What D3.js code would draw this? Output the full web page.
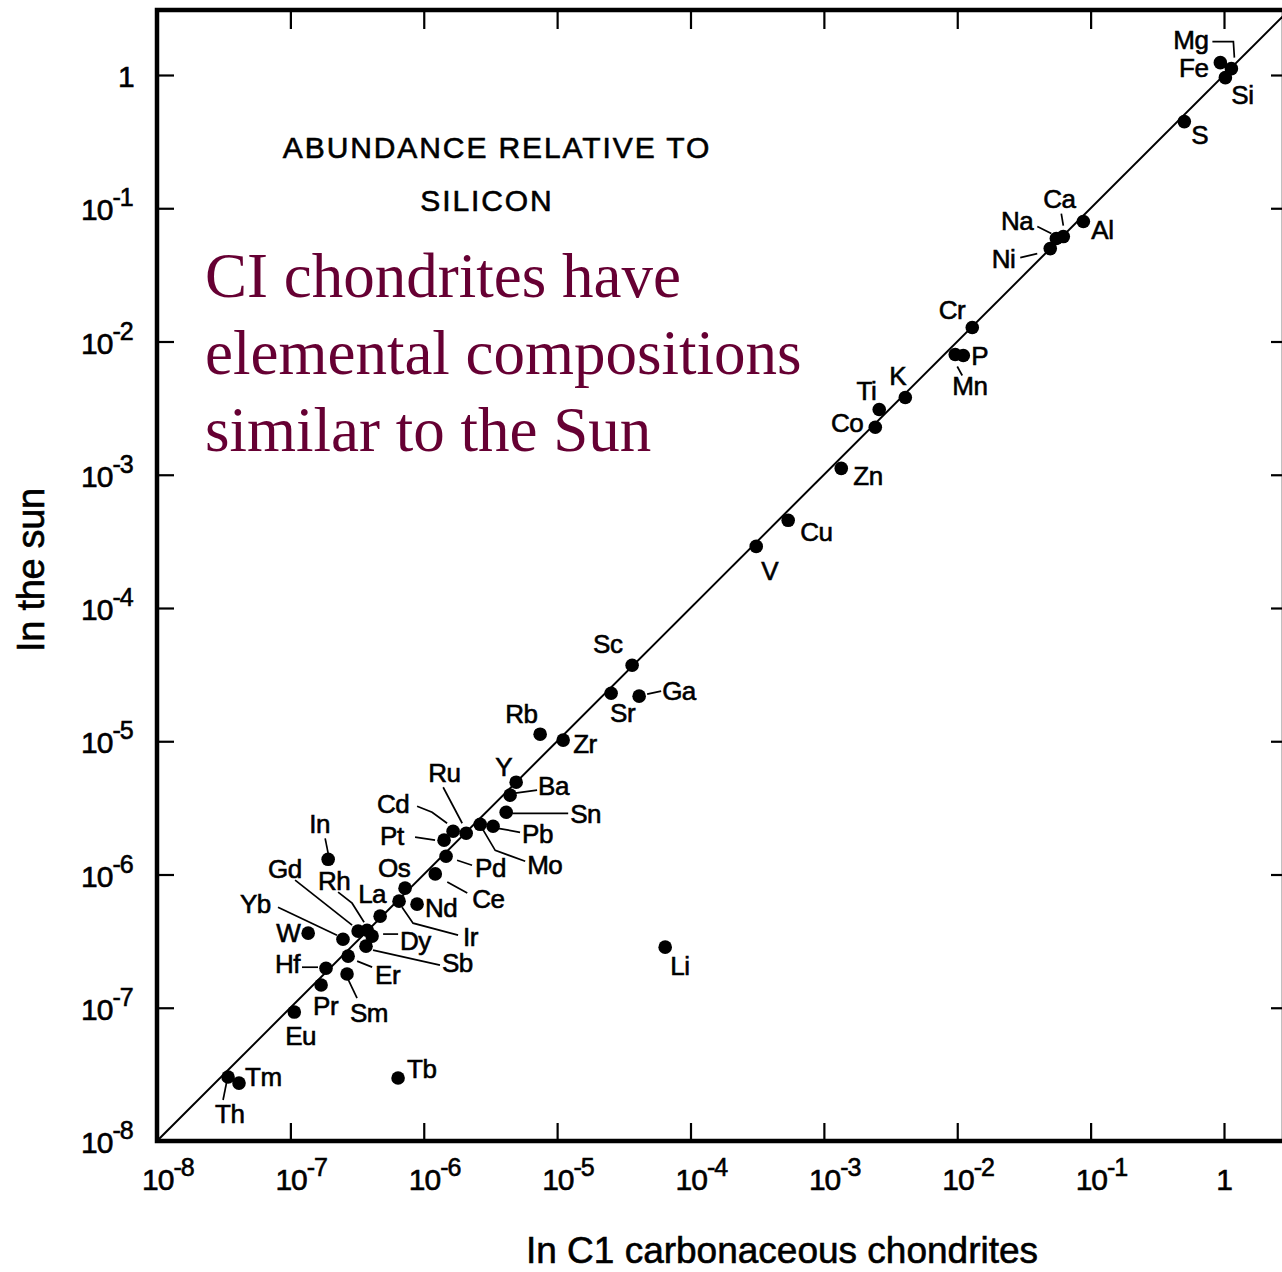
<!DOCTYPE html>
<html>
<head>
<meta charset="utf-8">
<script src="https://cdn.jsdelivr.net/npm/d3@7/dist/d3.min.js"></script>
<style>
  body { margin: 0; background: #fff; }
  svg text { font-family: "Liberation Sans", Arial, Helvetica, sans-serif; fill: #000; }
  .heavy { stroke: #000; stroke-width: 0.6px; }
</style>
</head>
<body>
<svg id="chart" width="1282" height="1272"></svg>
<script>
// ============================================================
// DATA (abundance relative to silicon)
// ============================================================
const elements = ["Mg","Fe","Si","S","Al","Ca","Na","Ni","Cr","Mn","P","K","Ti","Co","Zn","Cu","V",
  "Sc","Sr","Ga","Rb","Zr","Y","Ba","Sn","Pb","Mo","Ru","Cd","Pt","Pd","Ce","Os","Ir","Nd","La",
  "Gd","Rh","Dy","Sb","In","Yb","W","Er","Hf","Sm","Pr","Eu","Th","Tm","Tb","Li"];

// in C1 carbonaceous chondrites (x)
const chondrite = [1.136, 0.939, 1.024, 0.504, 0.0882, 0.0624, 0.0553, 0.0498, 0.01296, 0.00966,
  0.0111, 0.00408, 0.0026, 0.00243, 0.00135, 5.40e-4, 3.11e-4, 3.65e-5, 2.54e-5, 4.12e-5,
  7.46e-6, 1.11e-5, 4.93e-6, 4.44e-6, 4.15e-6, 3.31e-6, 2.65e-6, 2.08e-6, 1.66e-6, 1.42e-6,
  1.47e-6, 1.22e-6, 7.24e-7, 6.53e-7, 8.91e-7, 4.71e-7, 3.22e-7, 3.76e-7, 4.10e-7, 3.69e-7,
  1.92e-7, 2.48e-7, 1.36e-7, 2.71e-7, 1.85e-7, 2.66e-7, 1.70e-7, 1.07e-7, 3.41e-8, 4.12e-8,
  6.42e-7, 6.46e-5];

// in the sun (y)
const sun = [1.116, 1.238, 0.955, 0.447, 0.0795, 0.0613, 0.0593, 0.0498, 0.01274, 0.00799,
  0.00786, 0.0038, 0.00309, 0.00227, 0.001116, 4.55e-4, 2.90e-4, 3.72e-5, 2.29e-5, 2.18e-5,
  1.13e-5, 1.02e-5, 4.93e-6, 3.94e-6, 2.93e-6, 2.30e-6, 2.38e-6, 2.04e-6, 2.11e-6, 1.81e-6,
  1.37e-6, 1.01e-6, 7.90e-7, 6.31e-7, 5.99e-7, 4.87e-7, 3.76e-7, 3.82e-7, 3.45e-7, 2.90e-7,
  1.30e-6, 3.27e-7, 3.63e-7, 2.44e-7, 1.98e-7, 1.79e-7, 1.48e-7, 9.28e-8, 3.02e-8, 2.72e-8,
  2.97e-8, 2.85e-7];

const tickExponents = [-8, -7, -6, -5, -4, -3, -2, -1, 0];
const xTitle = "In C1 carbonaceous chondrites";
const yTitle = "In the sun";
const boxTitle = ["ABUNDANCE RELATIVE TO", "SILICON"];
const message = ["CI chondrites have", "elemental compositions", "similar to the Sun"];

// ============================================================
// LABEL LAYOUT (pixel offsets from each dot, leader polylines)
// ============================================================
const labelLayout = {
  Mg: { anchor: "end", dx: -23, dy: -20, leader: [[-19,-27],[2,-27],[3,-11]] },
  Fe: { anchor: "end", dx: -12, dy: 14 },
  Si: { dx: 6, dy: 26 },
  S:  { dx: 7, dy: 22 },
  Al: { dx: 8, dy: 17 },
  Ca: { dx: -20, dy: -29, leader: [[-2,-23],[0,-11]] },
  Na: { anchor: "end", dx: -23, dy: -8, leader: [[-19,-12],[-5,-5]] },
  Ni: { anchor: "end", dx: -35, dy: 19, leader: [[-30,9],[-13,5]] },
  Cr: { anchor: "end", dx: -7, dy: -8 },
  P:  { dx: 8, dy: 10 },
  Mn: { dx: -3, dy: 41, leader: [[2,12],[7,21]] },
  K:  { dx: -16, dy: -12 },
  Ti: { anchor: "end", dx: -3, dy: -9 },
  Co: { anchor: "end", dx: -12, dy: 5 },
  Zn: { dx: 12, dy: 17 },
  Cu: { dx: 12, dy: 21 },
  V:  { dx: 5, dy: 34 },
  Sc: { dx: -39, dy: -12 },
  Ga: { dx: 23, dy: 4, leader: [[8,-2],[22,-5]] },
  Sr: { dx: -1, dy: 29 },
  Rb: { dx: -35, dy: -11 },
  Zr: { dx: 10, dy: 13 },
  Y:  { dx: -21, dy: -6 },
  Ba: { dx: 28, dy: 0, leader: [[5,-2],[27,-5]] },
  Sn: { dx: 64, dy: 11, leader: [[6,1],[62,1]] },
  Pb: { dx: 29, dy: 17, leader: [[5,2],[27,6]] },
  Mo: { dx: 47, dy: 50, leader: [[2,4],[15,26],[45,37]] },
  Ru: { dx: -38, dy: -51, leader: [[-23,-46],[-4,-10]] },
  Cd: { dx: -76, dy: -18, leader: [[-36,-25],[-21,-19],[-6,-8]] },
  Pt: { dx: -64, dy: 5, leader: [[-29,-3],[-9,0]] },
  Pd: { dx: 29, dy: 21, leader: [[11,4],[26,9]] },
  Os: { dx: -27, dy: -11 },
  Ce: { dx: 37, dy: 34, leader: [[12,8],[32,19]] },
  Nd: { dx: 8, dy: 13 },
  Ir: { dx: 64, dy: 45, leader: [[3,6],[14,22],[59,34]] },
  La: { dx: -22, dy: -13 },
  Dy: { dx: 28, dy: 14, leader: [[11,-2],[26,-2]] },
  Sb: { dx: 76, dy: 26, leader: [[7,4],[74,19]] },
  Er: { dx: 27, dy: 28, leader: [[9,5],[24,11]] },
  Sm: { dx: 3, dy: 48, leader: [[0,3],[10,24]] },
  Pr: { dx: -8, dy: 30 },
  Eu: { dx: -9, dy: 33 },
  Hf: { anchor: "end", dx: -26, dy: 5, leader: [[-24,-1],[-8,-1]] },
  W:  { anchor: "end", dx: -8, dy: 9 },
  Yb: { dx: -103, dy: -26, leader: [[-65,-32],[-6,-4]] },
  Gd: { dx: -90, dy: -53, leader: [[-63,-51],[-6,-6]] },
  Rh: { dx: -49, dy: -40, leader: [[-29,-38],[-15,-27],[-3,-8]] },
  In: { dx: -19, dy: -26, leader: [[-3,-21],[0,-6]] },
  Th: { dx: -13, dy: 46, leader: [[-1,3],[-5,23]] },
  Tm: { dx: 6, dy: 3 },
  Tb: { dx: 9, dy: 0 },
  Li: { dx: 5, dy: 28 }
};

// ============================================================
// SCALES + FRAME
// ============================================================
const svg = d3.select('#chart');
const frame = { left: 157, top: 10, right: 1284, bottom: 1141 };

const x = d3.scaleLog().domain([1e-8, 1]).range([157, 1224]);
const y = d3.scaleLog().domain([1e-8, 1]).range([1141, 75]);
const tickVals = tickExponents.map(e => Math.pow(10, e));

svg.append('defs').append('clipPath').attr('id', 'plotClip')
  .append('rect')
  .attr('x', frame.left).attr('y', frame.top)
  .attr('width', frame.right - frame.left).attr('height', frame.bottom - frame.top);

function tickAxis(axis, tx, ty) {
  const g = svg.append('g')
    .attr('transform', `translate(${tx},${ty})`)
    .call(axis.tickValues(tickVals).tickSizeOuter(0).tickFormat(() => ''));
  g.select('.domain').remove();
  g.selectAll('.tick line').attr('stroke', '#000').attr('stroke-width', 2.2);
  return g;
}
tickAxis(d3.axisBottom(x).tickSize(-18), 0, frame.bottom);
tickAxis(d3.axisTop(x).tickSize(-19), 0, frame.top);
tickAxis(d3.axisLeft(y).tickSize(-17), frame.left, 0);
tickAxis(d3.axisRight(y).tickSize(-13), frame.right, 0);

svg.append('rect')
  .attr('x', frame.left).attr('y', frame.top)
  .attr('width', frame.right - frame.left).attr('height', frame.bottom - frame.top)
  .attr('fill', 'none').attr('stroke', '#000').attr('stroke-width', 4.5);

// ============================================================
// TICK LABELS (10 with superscript exponent)
// ============================================================
function powerLabel(sel, e) {
  if (e === 0) { sel.text('1'); return; }
  sel.append('tspan').text('10');
  sel.append('tspan').attr('font-size', 25).attr('dy', -14).text('-' + Math.abs(e));
}

svg.append('g').selectAll('text').data(tickExponents).join('text')
  .attr('class', 'heavy')
  .attr('x', e => e === 0 ? x(1) : x(Math.pow(10, e)) - 15)
  .attr('y', 1190)
  .attr('text-anchor', e => e === 0 ? 'middle' : 'start')
  .attr('font-size', 30)
  .attr('letter-spacing', -1)
  .each(function(e) { powerLabel(d3.select(this), e); });

svg.append('g').selectAll('text').data(tickExponents).join('text')
  .attr('class', 'heavy')
  .attr('x', e => e === 0 ? 118 : 81)
  .attr('y', e => y(Math.pow(10, e)) + 12)
  .attr('font-size', 30)
  .attr('letter-spacing', -1)
  .each(function(e) { powerLabel(d3.select(this), e); });

// axis titles
svg.append('text')
  .attr('class', 'heavy')
  .attr('x', 782).attr('y', 1263)
  .attr('text-anchor', 'middle')
  .attr('font-size', 37)
  .attr('letter-spacing', 0)
  .text(xTitle);

svg.append('text')
  .attr('class', 'heavy')
  .attr('transform', 'translate(44,570) rotate(-90)')
  .attr('text-anchor', 'middle')
  .attr('font-size', 38)
  .attr('letter-spacing', -0.3)
  .text(yTitle);

// ============================================================
// IN-PLOT TEXT
// ============================================================
svg.append('g').selectAll('text').data(boxTitle).join('text')
  .attr('class', 'heavy')
  .attr('x', (d, i) => i === 0 ? 497 : 487)
  .attr('y', (d, i) => 158 + i * 53)
  .attr('text-anchor', 'middle')
  .attr('font-size', 30)
  .attr('letter-spacing', 1.9)
  .text(d => d);

svg.append('g').selectAll('text').data(message).join('text')
  .attr('x', 205)
  .attr('y', (d, i) => 297 + i * 77)
  .attr('font-size', 63)
  .style('font-family', '"Liberation Serif", "Times New Roman", serif')
  .style('fill', '#660033')
  .text(d => d);

// ============================================================
// IDENTITY LINE + POINTS
// ============================================================
svg.append('line')
  .attr('clip-path', 'url(#plotClip)')
  .attr('x1', x(1e-8)).attr('y1', y(1e-8))
  .attr('x2', x(Math.pow(10, 0.5))).attr('y2', y(Math.pow(10, 0.5)))
  .attr('stroke', '#000').attr('stroke-width', 2);

const points = elements.map((name, i) => ({
  name, cx: x(chondrite[i]), cy: y(sun[i]), lay: labelLayout[name] || { dx: 8, dy: 0 }
}));

svg.append('g').selectAll('polyline').data(points.filter(p => p.lay.leader)).join('polyline')
  .attr('points', p => p.lay.leader.map(([a, b]) => (p.cx + a) + ',' + (p.cy + b)).join(' '))
  .attr('fill', 'none').attr('stroke', '#000').attr('stroke-width', 1.7);

svg.append('g').selectAll('circle').data(points).join('circle')
  .attr('cx', p => p.cx).attr('cy', p => p.cy)
  .attr('r', 6.8).attr('fill', '#000');

svg.append('g').selectAll('text').data(points).join('text')
  .attr('class', 'heavy')
  .attr('x', p => p.cx + p.lay.dx)
  .attr('y', p => p.cy + p.lay.dy)
  .attr('text-anchor', p => p.lay.anchor || 'start')
  .attr('font-size', 26)
  .attr('letter-spacing', -0.5)
  .text(p => p.name);
</script>
</body>
</html>
